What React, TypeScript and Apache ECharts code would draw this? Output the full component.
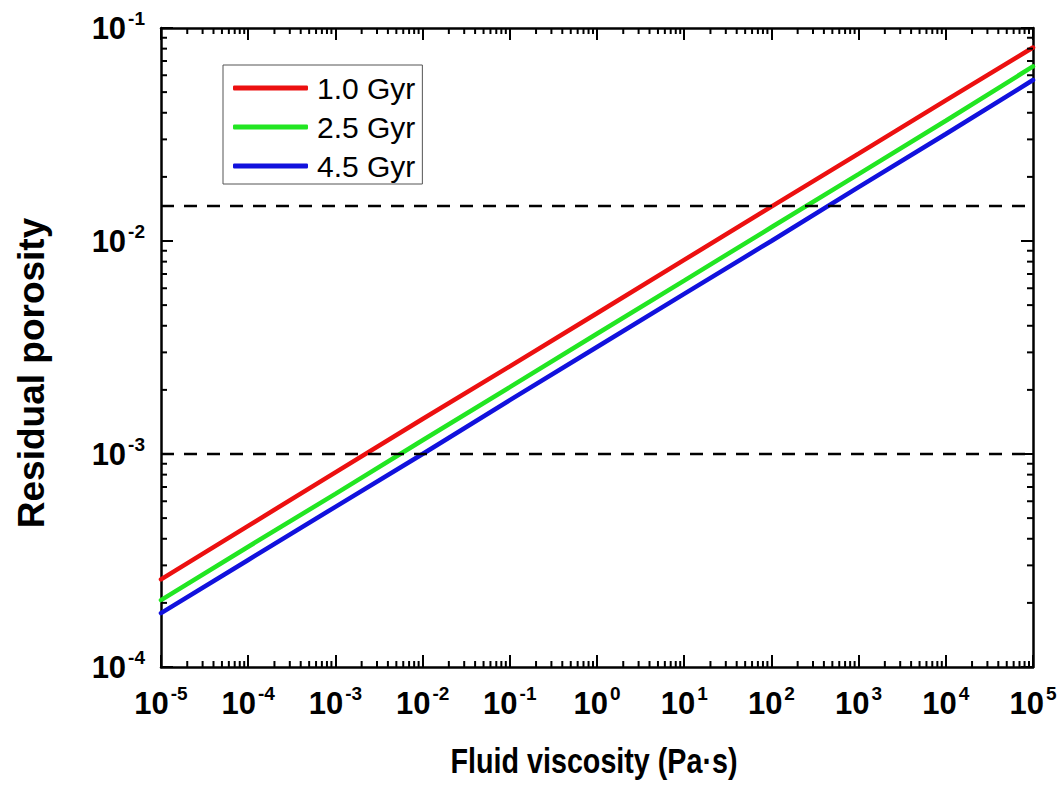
import React, { useEffect, useRef } from 'react';
import * as echarts from 'echarts';

// ---- data ----
const viscosity = [1e-5, 1e-4, 1e-3, 1e-2, 1e-1, 1, 1e1, 1e2, 1e3, 1e4, 1e5];
const porosity1_0 = [2.58e-4, 4.6e-4, 8.2e-4, 1.46e-3, 2.58e-3, 4.58e-3, 8.15e-3, 1.45e-2, 2.57e-2, 4.57e-2, 8.1e-2];
const porosity2_5 = [2.06e-4, 3.67e-4, 6.5e-4, 1.16e-3, 2.06e-3, 3.67e-3, 6.52e-3, 1.16e-2, 2.06e-2, 3.67e-2, 6.6e-2];
const porosity4_5 = [1.79e-4, 3.18e-4, 5.65e-4, 1.0e-3, 1.79e-3, 3.18e-3, 5.65e-3, 1.0e-2, 1.79e-2, 3.18e-2, 5.7e-2];
const seriesNames = ['1.0 Gyr', '2.5 Gyr', '4.5 Gyr'];
const seriesColors = ['#ec1010', '#22e622', '#1111dd'];
const referenceLevels = [1e-3, 1.46e-2];
const xRange = [1e-5, 1e5];
const yRange = [1e-4, 1e-1];
const xMajorTicks = [1e-5, 1e-4, 1e-3, 1e-2, 1e-1, 1, 1e1, 1e2, 1e3, 1e4, 1e5];
const yMajorTicks = [1e-4, 1e-3, 1e-2, 1e-1];
const xTitle = 'Fluid viscosity (Pa·s)';
const yTitle = 'Residual porosity';

const SANS = "'Liberation Sans', Arial, Helvetica, sans-serif";

function minorTickValues(minExp: number, maxExp: number): number[] {
  const out: number[] = [];
  for (let e = minExp; e < maxExp; e++) {
    for (let k = 2; k <= 9; k++) out.push(k * Math.pow(10, e));
  }
  return out;
}

const labelRich = {
  b: { fontSize: 31, fontWeight: 'bold', fontFamily: SANS, color: '#000', lineHeight: 38 },
  s: { fontSize: 19, fontWeight: 'bold', fontFamily: SANS, color: '#000', lineHeight: 15, verticalAlign: 'top', padding: [0, 0, 0, 2] },
};

const powerLabel = (v: number) => {
  const e = Math.round(Math.log10(v));
  return `{b|10}{s|${e}}`;
};

export default function App() {
  const ref = useRef<HTMLDivElement>(null);
  useEffect(() => {
    if (!ref.current) return;
    const chart = echarts.init(ref.current, undefined, { renderer: 'svg' });
    const axisLine = { show: true, lineStyle: { color: '#000', width: 2.5 } };
    const tickBase = { show: true, inside: true, length: 12, lineStyle: { color: '#000', width: 2 } };
    const xMinor = minorTickValues(Math.round(Math.log10(xRange[0])), Math.round(Math.log10(xRange[1])));
    const yMinor = minorTickValues(Math.round(Math.log10(yRange[0])), Math.round(Math.log10(yRange[1])));
    const minorLen = 6;
    const tickStyle = { stroke: '#000', lineWidth: 2 };

    const lineSeries = [porosity1_0, porosity2_5, porosity4_5].map((vals, i) => ({
      name: seriesNames[i],
      type: 'line',
      xAxisIndex: 0,
      yAxisIndex: 0,
      data: viscosity.map((x, j) => [x, vals[j]]),
      symbol: 'none',
      showSymbol: false,
      lineStyle: { width: 4.5, color: seriesColors[i], cap: 'round' },
      itemStyle: { color: seriesColors[i] },
      z: 3,
    }));

    const refSeries = referenceLevels.map((lvl, i) => ({
      name: 'ref' + i,
      type: 'line',
      xAxisIndex: 0,
      yAxisIndex: 0,
      data: [
        [xRange[0], lvl],
        [xRange[1], lvl],
      ],
      symbol: 'none',
      showSymbol: false,
      silent: true,
      lineStyle: { width: 2.5, color: '#000', type: [13, 10] },
      z: 4,
    }));

    const xAxisCommon = {
      type: 'log',
      logBase: 10,
      min: xRange[0],
      max: xRange[1],
      axisLine,
      splitLine: { show: false },
    };
    const yAxisCommon = {
      type: 'log',
      logBase: 10,
      min: yRange[0],
      max: yRange[1],
      axisLine,
      splitLine: { show: false },
    };

    const option: any = {
      animation: false,
      backgroundColor: '#fff',
      grid: { left: 161, top: 28, width: 872, height: 639 },
      legend: {
        data: seriesNames.map((n) => ({ name: n, icon: 'roundRect' })),
        orient: 'vertical',
        left: 223,
        top: 65,
        itemWidth: 75,
        itemHeight: 5,
        itemGap: 9,
        padding: [8, 7, 3, 10],
        borderColor: '#555',
        borderWidth: 1,
        backgroundColor: '#fff',
        textStyle: { fontSize: 30, fontFamily: SANS, color: '#000', lineHeight: 30, padding: [0, 0, 0, 4] },
      },
      xAxis: [
        {
          ...xAxisCommon,
          position: 'bottom',
          axisTick: { ...tickBase, customValues: xMajorTicks },
          axisLabel: { formatter: powerLabel, rich: labelRich, margin: 17, customValues: xMajorTicks },
        },
        {
          ...xAxisCommon,
          position: 'top',
          axisTick: { ...tickBase, customValues: xMajorTicks },
          axisLabel: { show: false },
        },
      ],
      yAxis: [
        {
          ...yAxisCommon,
          position: 'left',
          axisTick: { ...tickBase, customValues: yMajorTicks },
          axisLabel: { formatter: powerLabel, rich: labelRich, margin: 16, customValues: yMajorTicks },
        },
        {
          ...yAxisCommon,
          position: 'right',
          axisTick: { ...tickBase, customValues: yMajorTicks },
          axisLabel: { show: false },
        },
      ],
      graphic: [
        {
          type: 'text',
          x: 31,
          y: 373,
          rotation: Math.PI / 2,
          style: {
            text: yTitle,
            fontSize: 37,
            fontWeight: 'bold',
            fontFamily: SANS,
            fill: '#000',
            align: 'center',
            verticalAlign: 'middle',
          },
        },
        {
          type: 'text',
          x: 594,
          y: 761,
          scaleX: 0.82,
          style: {
            text: xTitle,
            fontSize: 35,
            fontWeight: 'bold',
            fontFamily: SANS,
            fill: '#000',
            align: 'center',
            verticalAlign: 'middle',
          },
        },
      ],
      series: [
        ...lineSeries,
        ...refSeries,
        {
          type: 'custom',
          name: 'xMinorTicks',
          xAxisIndex: 0,
          yAxisIndex: 0,
          silent: true,
          clip: false,
          z: 10,
          data: xMinor.map((v) => [v, yRange[0]]),
          renderItem: (params: any, api: any) => {
            const v = api.value(0);
            const b = api.coord([v, yRange[0]]);
            const t = api.coord([v, yRange[1]]);
            return {
              type: 'group',
              children: [
                { type: 'line', shape: { x1: b[0], y1: b[1], x2: b[0], y2: b[1] - minorLen }, style: tickStyle },
                { type: 'line', shape: { x1: t[0], y1: t[1], x2: t[0], y2: t[1] + minorLen }, style: tickStyle },
              ],
            };
          },
        },
        {
          type: 'custom',
          name: 'yMinorTicks',
          xAxisIndex: 0,
          yAxisIndex: 0,
          silent: true,
          clip: false,
          z: 10,
          data: yMinor.map((v) => [xRange[0], v]),
          renderItem: (params: any, api: any) => {
            const v = api.value(1);
            const l = api.coord([xRange[0], v]);
            const r = api.coord([xRange[1], v]);
            return {
              type: 'group',
              children: [
                { type: 'line', shape: { x1: l[0], y1: l[1], x2: l[0] + minorLen, y2: l[1] }, style: tickStyle },
                { type: 'line', shape: { x1: r[0], y1: r[1], x2: r[0] - minorLen, y2: r[1] }, style: tickStyle },
              ],
            };
          },
        },
      ],
    };
    chart.setOption(option);
    return () => chart.dispose();
  }, []);
  return (
    <div
      ref={ref}
      style={{ position: 'fixed', left: 0, top: 0, width: 1062, height: 787, background: '#fff' }}
    />
  );
}
